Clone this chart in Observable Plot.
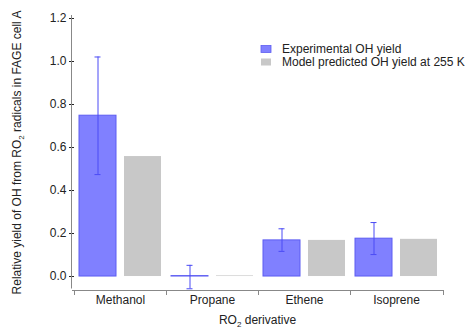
<!DOCTYPE html>
<html><head><meta charset="utf-8">
<script src="https://cdn.jsdelivr.net/npm/d3@7"></script>
<script src="https://cdn.jsdelivr.net/npm/@observablehq/plot@0.6"></script>
<style>
body{margin:0;background:#fff;}
#chart{position:relative;width:465px;height:331px;}
#chart svg{font-family:"Liberation Sans",Arial,sans-serif;}
g[aria-label="y-axis tick"]{stroke:#888;}
</style></head><body><div id="chart"></div>
<script>
const categories = ["Methanol", "Propane", "Ethene", "Isoprene"];
const series = ["Experimental OH yield", "Model predicted OH yield at 255 K"];
const experimental = [0.748, 0.002, 0.168, 0.176];
const expLow = [0.474, -0.057, 0.117, 0.102];
const expHigh = [1.021, 0.052, 0.222, 0.251];
const model = [0.558, 0.003, 0.168, 0.173];
const yTicks = [0, 0.2, 0.4, 0.6, 0.8, 1.0, 1.2];
const yDomain = [-0.065, 1.214];
const yLabel = ["Relative yield of OH from RO", "2", " radicals in FAGE cell A"];
const xLabel = ["RO", "2", " derivative"];
const colors = ["#8080ff", "#c8c8c8"];

const expRows = categories.map((c, i) => ({category: c, series: series[0], value: experimental[i], low: expLow[i], high: expHigh[i]}));
const modelRows = categories.map((c, i) => ({category: c, series: series[1], value: model[i]}));

const capInset = 15.5;
const errColor = "#4a4af5";

const chart = Plot.plot({
  width: 465, height: 331,
  marginLeft: 72, marginRight: 22, marginTop: 15, marginBottom: 41,
  style: {fontSize: "12px", color: "#222", background: "transparent", fontFamily: '"Liberation Sans", Arial, sans-serif'},
  fx: {domain: categories, padding: 0, label: null, axis: "bottom", tickSize: 0, tickPadding: 5},
  x: {domain: series, paddingInner: 0.18, paddingOuter: 0.1, axis: null},
  y: {domain: yDomain, ticks: yTicks, tickFormat: d => d.toFixed(1), tickSize: 5, tickPadding: 3, label: null},
  color: {domain: series, range: colors},
  marks: [
    Plot.barY(expRows, {fx: "category", x: "series", y1: 0, y2: "value", fill: "series", stroke: "#5c5cf2", strokeWidth: 1}),
    Plot.barY(modelRows, {fx: "category", x: "series", y1: 0, y2: "value", fill: "series"}),
    Plot.ruleX(expRows, {fx: "category", x: "series", y1: "low", y2: "high", stroke: errColor, strokeWidth: 1}),
    Plot.tickY(expRows, {fx: "category", x: "series", y: "low", stroke: errColor, insetLeft: capInset, insetRight: capInset}),
    Plot.tickY(expRows, {fx: "category", x: "series", y: "high", stroke: errColor, insetLeft: capInset, insetRight: capInset})
  ]
});
document.getElementById("chart").appendChild(chart);

// axes lines, band boundary ticks, labels, legend
const svg = d3.select(chart);
const fx = chart.scale("fx");
const y = chart.scale("y");
const color = chart.scale("color");
const x0 = fx.range[0], x1 = fx.range[1];
const yb = y.apply(yDomain[0]);
const yt = y.apply(yDomain[1]);
const g = svg.append("g").attr("stroke", "#888").attr("fill", "none");
g.append("line").attr("x1", x0 - 0.5).attr("x2", x0 - 0.5).attr("y1", yt).attr("y2", yb - 1.5);
g.append("line").attr("x1", x0).attr("x2", x1).attr("y1", yb + 0.5).attr("y2", yb + 0.5);
const bounds = fx.domain.map(c => fx.apply(c)).concat([x1]);
g.selectAll("line.b").data(bounds).join("line").attr("class", "b")
  .attr("x1", d => d + 0.5).attr("x2", d => d + 0.5).attr("y1", yb).attr("y2", yb + 5);

function subText(sel, parts) {
  sel.append("tspan").text(parts[0]);
  sel.append("tspan").attr("font-size", "8px").attr("dy", "3").text(parts[1]);
  sel.append("tspan").attr("dy", "-3").text(parts[2]);
}
const xl = svg.append("text").attr("x", (x0 + x1) / 2).attr("y", 324).attr("text-anchor", "middle")
  .attr("fill", "#222").attr("font-size", "12px");
subText(xl, xLabel);
const yl = svg.append("text").attr("transform", `translate(21,${(yt + yb) / 2}) rotate(-90)`).attr("text-anchor", "middle")
  .attr("fill", "#222").attr("font-size", "12px");
subText(yl, yLabel);

const lg = svg.append("g").attr("text-anchor", "start");
color.domain.forEach((s, i) => {
  const row = lg.append("g").attr("transform", `translate(261,${49 + i * 13})`);
  row.append("rect").attr("x", 0).attr("y", -3.5).attr("width", 10).attr("height", 7)
    .attr("fill", color.apply(s)).attr("stroke", i === 0 ? "#5c5cf2" : "none").attr("stroke-width", 0.8);
  row.append("text").attr("x", 21).attr("dy", "0.35em").attr("fill", "#222").attr("font-size", "12px")
    .attr("text-anchor", "start").text(s);
});
</script></body></html>
